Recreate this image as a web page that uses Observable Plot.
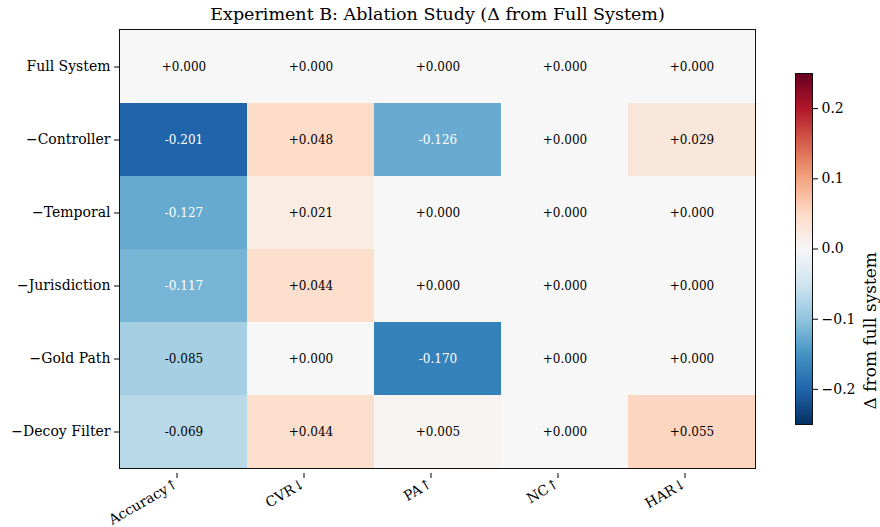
<!DOCTYPE html>
<html>
<head>
<meta charset="utf-8">
<script src="https://cdn.jsdelivr.net/npm/d3@7"></script>
<script src="https://cdn.jsdelivr.net/npm/@observablehq/plot@0.6"></script>
<style>
  html, body { margin: 0; padding: 0; background: #fff; }
  #wrap { position: relative; width: 880px; height: 527px; font-family: "DejaVu Serif", serif; }
  #wrap svg { position: absolute; top: 0; }
</style>
</head>
<body>
<div id="wrap"></div>
<script>
const title = "Experiment B: Ablation Study (Δ from Full System)";
const variants = ["Full System", "−Controller", "−Temporal", "−Jurisdiction", "−Gold Path", "−Decoy Filter"];
const metrics = ["Accuracy↑", "CVR↓", "PA↑", "NC↑", "HAR↓"];
const fullSystem   = [0.000, 0.000, 0.000, 0.000, 0.000];
const controller   = [-0.201, 0.048, -0.126, 0.000, 0.029];
const temporal     = [-0.127, 0.021, 0.000, 0.000, 0.000];
const jurisdiction = [-0.117, 0.044, 0.000, 0.000, 0.000];
const goldPath     = [-0.085, 0.000, -0.170, 0.000, 0.000];
const decoyFilter  = [-0.069, 0.044, 0.005, 0.000, 0.055];
const colorbarLabel = "Δ from full system";
const colorbarTicks = [-0.2, -0.1, 0.0, 0.1, 0.2];
const colorDomain = [-0.25, 0.25];

const rows = [fullSystem, controller, temporal, jurisdiction, goldPath, decoyFilter];
const cells = [];
rows.forEach((vals, i) => vals.forEach((v, j) => cells.push({variant: variants[i], metric: metrics[j], value: v})));

const rdbuR = ["#053061","#2166ac","#4393c3","#92c5de","#d1e5f0","#f7f7f7","#fddbc7","#f4a582","#d6604d","#b2182b","#67001f"];
const colorOpts = {type: "linear", domain: colorDomain, interpolate: d3.piecewise(d3.interpolateRgb, rdbuR), clamp: true};
const fmt = v => (v >= 0 ? "+" : "-") + Math.abs(v).toFixed(3);

const main = Plot.plot({
  width: 880, height: 527,
  marginTop: 29, marginBottom: 59, marginLeft: 119, marginRight: 125,
  style: {fontFamily: "DejaVu Serif, serif", fontSize: "14px", color: "#000", background: "transparent"},
  x: {domain: metrics, padding: 0, label: null},
  y: {domain: variants, padding: 0, label: null},
  color: colorOpts,
  marks: [
    Plot.cell(cells, {x: "metric", y: "variant", fill: "value"}),
    Plot.text(cells, {x: "metric", y: "variant", text: d => fmt(d.value), fontSize: 12,
      fill: d => Math.abs(d.value) > 0.1 ? "white" : "black"}),
    Plot.frame({stroke: "#111", strokeWidth: 1}),
    Plot.axisY({tickSize: 5, tickPadding: 4, fontSize: 14, label: null}),
    Plot.axisX({tickSize: 5, tickPadding: 4, fontSize: 14, label: null, tickRotate: -30, dx: -7, dy: 5}),
    Plot.text([title], {frameAnchor: "top", lineAnchor: "middle", dy: -15, fontSize: 17.5, fill: "black"})
  ]
});
document.getElementById("wrap").appendChild(main);

const cbLeft = 780;
const cb = Plot.plot({
  width: 100, height: 527,
  marginTop: 73, marginBottom: 103, marginLeft: 15, marginRight: 68,
  style: {fontFamily: "DejaVu Serif, serif", fontSize: "14px", color: "#000", background: "transparent"},
  x: {domain: [0, 1], axis: null},
  y: {domain: colorDomain, label: null},
  color: colorOpts,
  marks: [
    Plot.raster({x1: 0, x2: 1, y1: colorDomain[0], y2: colorDomain[1], width: 1, height: 256,
      fill: (x, y) => y, imageRendering: "auto"}),
    Plot.frame({stroke: "#111", strokeWidth: 1}),
    Plot.axisY(colorbarTicks, {anchor: "right", tickSize: 5, tickPadding: 4, fontSize: 14,
      tickFormat: d3.format(".1f"), label: null}),
    Plot.text([colorbarLabel], {frameAnchor: "right", dx: 58, dy: 3, rotate: -90, fontSize: 17, fill: "black"})
  ]
});
cb.style.left = cbLeft + "px";
document.getElementById("wrap").appendChild(cb);
</script>
</body>
</html>
